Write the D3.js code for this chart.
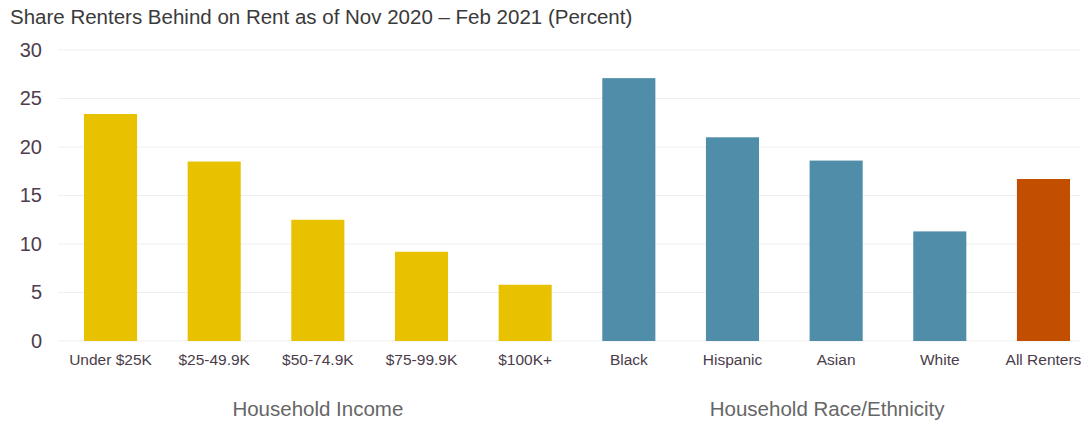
<!DOCTYPE html>
<html>
<head>
<meta charset="utf-8">
<script src="https://cdn.jsdelivr.net/npm/d3@7"></script>
<style>
  body { margin: 0; background: #fff; }
  svg { font-family: "Liberation Sans", Arial, sans-serif; }
</style>
</head>
<body>
<svg id="main" width="1089" height="424"></svg>
<script>
// data
var categories = ["Under $25K", "$25-49.9K", "$50-74.9K", "$75-99.9K", "$100K+",
  "Black", "Hispanic", "Asian", "White", "All Renters"];
var values = [23.4, 18.5, 12.5, 9.2, 5.8, 27.1, 21.0, 18.6, 11.3, 16.7];
var groups = ["income", "income", "income", "income", "income",
  "race", "race", "race", "race", "all"];
var groupLabels = [
  { name: "Household Income", from: 0, to: 4 },
  { name: "Household Race/Ethnicity", from: 5, to: 9 }
];
var yTicks = [0, 5, 10, 15, 20, 25, 30];

var colors = { income: "#E8C100", race: "#508DA8", all: "#C24E00" };

var svg = d3.select("#main");

var x = d3.scaleBand()
  .domain(categories)
  .range([84, 1070])
  .paddingInner(0.488)
  .paddingOuter(0);

var y = d3.scaleLinear().domain([0, 30]).range([341, 50]);

svg.append("text")
  .attr("x", 10)
  .attr("y", 24)
  .attr("fill", "#3a3a3a")
  .style("font-size", "20.5px")
  .text("Share Renters Behind on Rent as of Nov 2020 \u2013 Feb 2021 (Percent)");

// gridlines
svg.append("g")
  .selectAll("line")
  .data(yTicks)
  .enter()
  .append("line")
  .attr("x1", 58)
  .attr("x2", 1080)
  .attr("y1", function(d) { return y(d); })
  .attr("y2", function(d) { return y(d); })
  .attr("stroke", "#efefef")
  .attr("stroke-width", 1);

// y axis labels
var yAxis = svg.append("g")
  .attr("transform", "translate(42,0)")
  .call(d3.axisLeft(y).tickValues(yTicks).tickSize(0).tickPadding(0));
yAxis.select(".domain").remove();
yAxis.selectAll("text")
  .attr("fill", "#4d3d4d")
  .style("font-size", "20px")
  .style("font-family", "'Liberation Sans', Arial, sans-serif");

// bars
svg.append("g")
  .selectAll("rect")
  .data(values)
  .enter()
  .append("rect")
  .attr("x", function(d, i) { return x(categories[i]); })
  .attr("y", function(d) { return y(d); })
  .attr("width", x.bandwidth())
  .attr("height", function(d) { return y(0) - y(d); })
  .attr("fill", function(d, i) { return colors[groups[i]]; });

// x axis labels
var xAxis = svg.append("g")
  .attr("transform", "translate(0,341)")
  .call(d3.axisBottom(x).tickSize(0).tickPadding(13));
xAxis.select(".domain").remove();
xAxis.selectAll("text")
  .attr("fill", "#4a3c4a")
  .style("font-size", "15.5px")
  .style("font-family", "'Liberation Sans', Arial, sans-serif");

// group labels (race label sits a bit left of its span's centre)
svg.append("g")
  .selectAll("text")
  .data(groupLabels)
  .enter()
  .append("text")
  .attr("x", function(d, i) {
    var mid = (x(categories[d.from]) + x(categories[d.to]) + x.bandwidth()) / 2;
    return i === 1 ? mid - 9 : mid;
  })
  .attr("y", 416)
  .attr("text-anchor", "middle")
  .attr("fill", "#666")
  .style("font-size", "20.5px")
  .text(function(d) { return d.name; });
</script>
</body>
</html>
